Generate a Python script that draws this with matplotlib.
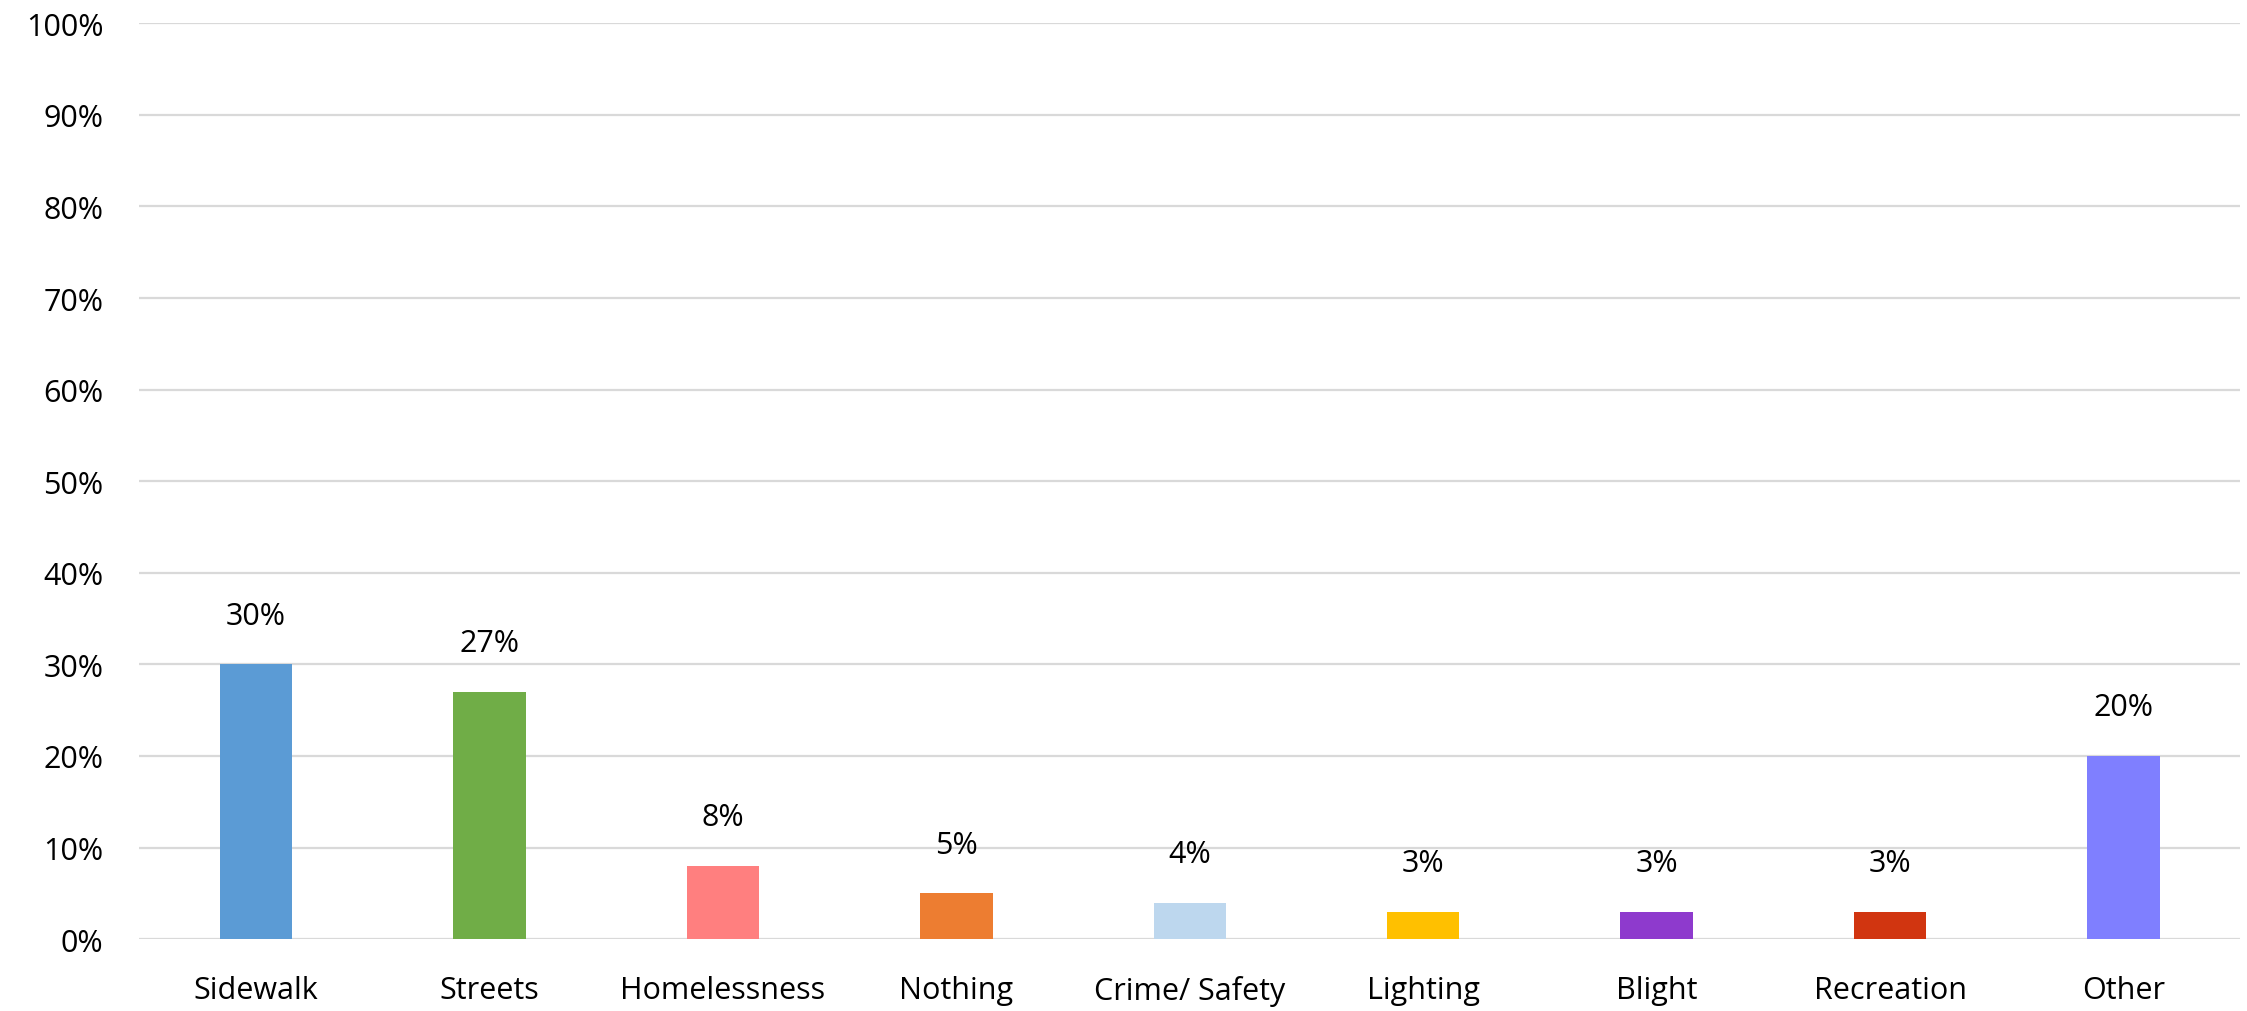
import numpy as np
import matplotlib
matplotlib.use("Agg")
import matplotlib.pyplot as plt
from matplotlib.ticker import PercentFormatter

categories = ["Sidewalk", "Streets", "Homelessness", "Nothing", "Crime/ Safety",
              "Lighting", "Blight", "Recreation", "Other"]
values = [30, 27, 8, 5, 4, 3, 3, 3, 20]
colors = ["#5B9BD5", "#70AD47", "#FF7F7F", "#ED7D31", "#BDD7EE",
          "#FFC000", "#8E3ACD", "#D13510", "#7F7FFF"]

plt.rcParams['font.family'] = ['Open Sans', 'DejaVu Sans']

fig = plt.figure(figsize=(22.47, 10.12), dpi=100)
ax = fig.add_axes([0.062, 0.071, 0.935, 0.905])

x = np.arange(len(categories))
bars = ax.bar(x, values, width=0.31, color=colors, zorder=3)

for xi, v in zip(x, values):
    ax.annotate(f"{v}%", (xi, v), xytext=(0, 35), textcoords="offset points",
                ha="center", va="center", fontsize=22, color="#000000")

ax.set_xlim(-0.5, len(categories) - 0.5)
ax.set_ylim(0, 100)
ax.set_yticks(np.arange(0, 101, 10))
ax.yaxis.set_major_formatter(PercentFormatter(decimals=0))
ax.set_xticks(x)
ax.set_xticklabels(categories)

ax.grid(axis="y", color="#D9D9D9", linewidth=1.6, zorder=0)
ax.tick_params(axis="both", length=0, labelsize=22, colors="#000000")
ax.tick_params(axis="y", pad=26)
ax.tick_params(axis="x", pad=26)
for s in ax.spines.values():
    s.set_visible(False)

fig.savefig("out.png", dpi=100)
